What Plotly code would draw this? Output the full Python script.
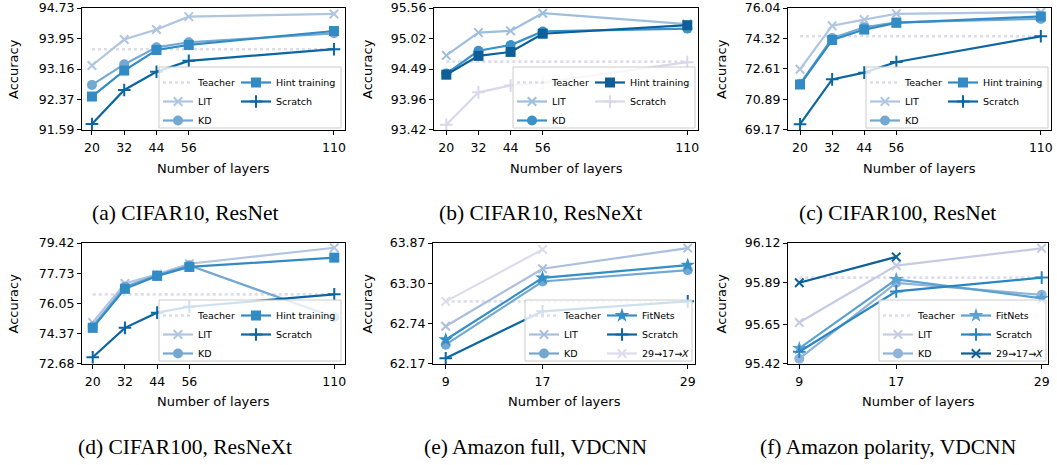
import plotly.graph_objects as go

W, H = 1057, 465

# ---------------- data ----------------
layers_resnet = [20, 32, 44, 56, 110]
layers_vdcnn = [9, 17, 29]
layers_chain = [9, 17]

# (a) CIFAR10, ResNet
a_teacher = 93.67
a_lit = [93.25, 93.92, 94.18, 94.51, 94.58]
a_kd = [92.75, 93.28, 93.72, 93.85, 94.08]
a_hint = [92.45, 93.12, 93.65, 93.78, 94.14]
a_scratch = [91.74, 92.62, 93.09, 93.37, 93.67]
a_ticks = [91.59, 92.37, 93.16, 93.95, 94.73]

# (b) CIFAR10, ResNeXt
b_teacher = 94.62
b_lit = [94.73, 95.13, 95.16, 95.47, 95.28]
b_kd = [94.41, 94.81, 94.91, 95.15, 95.20]
b_hint = [94.39, 94.72, 94.79, 95.11, 95.26]
b_scratch = [93.51, 94.08, 94.20, 94.25, 94.61]
b_ticks = [93.42, 93.96, 94.49, 95.02, 95.56]

# (c) CIFAR100, ResNet
c_teacher = 74.45
c_lit = [72.59, 75.05, 75.39, 75.72, 75.81]
c_kd = [71.77, 74.35, 74.96, 75.24, 75.43]
c_hint = [71.73, 74.24, 74.83, 75.21, 75.57]
c_scratch = [69.49, 72.02, 72.40, 73.00, 74.45]
c_ticks = [69.17, 70.89, 72.61, 74.32, 76.04]

# (d) CIFAR100, ResNeXt
d_teacher = 76.56
d_lit = [74.99, 77.17, 77.68, 78.27, 79.16]
d_kd = [74.77, 76.99, 77.63, 78.18, 75.28]
d_hint = [74.69, 76.87, 77.59, 78.09, 78.61]
d_scratch = [73.05, 74.69, 75.54, 75.87, 76.56]
d_ticks = [72.68, 74.37, 76.05, 77.73, 79.42]

# (e) Amazon full, VDCNN
e_teacher = 63.05
e_lit = [62.70, 63.51, 63.80]
e_kd = [62.44, 63.33, 63.49]
e_fitnets = [62.51, 63.38, 63.56]
e_scratch = [62.25, 62.91, 63.05]
e_chain = [63.05, 63.78]
e_ticks = [62.17, 62.74, 63.30, 63.87]

# (f) Amazon polarity, VDCNN
f_teacher = 95.92
f_lit = [95.66, 95.99, 96.09]
f_kd = [95.45, 95.89, 95.82]
f_fitnets = [95.51, 95.91, 95.80]
f_scratch = [95.49, 95.84, 95.92]
f_chain = [95.89, 96.04]
f_ticks = [95.42, 95.65, 95.89, 96.12]

captions = ["(a) CIFAR10, ResNet", "(b) CIFAR10, ResNeXt", "(c) CIFAR100, ResNet",
            "(d) CIFAR100, ResNeXt", "(e) Amazon full, VDCNN", "(f) Amazon polarity, VDCNN"]
x_title = "Number of layers"
y_title = "Accuracy"

# ---------------- styling / layout helpers ----------------
FONT = "DejaVu Sans"
TEACHER_C = "#dcdcee"

# panel boxes in pixels: (left, right, top, bottom)
boxes = [
    (82, 345, 8, 130), (434, 698, 8, 130), (788, 1051, 8, 130),
    (82, 345, 243, 364), (433, 695, 243, 364), (788, 1048, 243, 364),
]
xranges = [[16.3, 114.1], [15.4, 114.0], [15.5, 113.8], [16.0, 114.0], [7.95, 29.6], [8.07, 29.52]]
# legend frame (left, right, top, bottom) in px
frames = [
    (162, 341, 67, 128), (516, 695, 67, 128), (869, 1048, 67, 128),
    (162, 341, 300, 361), (528, 692, 300, 361), (882, 1046, 300, 361),
]
ytitle_x = [13, 367, 721, 13, 367, 721]
xtitle_y = [168, 168, 168, 401, 401, 401]
cap_pos = [(185, 213), (540, 213), (897, 213), (185, 447), (535, 447), (888, 447)]


def px2x(p):
    return p / W


def px2y(p):
    return 1 - p / H


fig = go.Figure()


def add(panel, leg, xs, ys, name, color, kind):
    ax = "" if panel == 0 else str(panel + 1)
    lw = 2.2
    if kind == "teacher":
        tr = go.Scatter(x=xs, y=ys, mode="lines", name=name,
                        line=dict(color=color, width=2.6, dash="dot"))
    else:
        if kind == "x":
            mk = dict(symbol="x-thin", size=8.5, line=dict(color=color, width=2), color=color)
        elif kind == "plus":
            mk = dict(symbol="cross-thin", size=9, line=dict(color=color, width=2), color=color)
        elif kind == "circle":
            mk = dict(symbol="circle", size=10, color=color, line=dict(width=0))
        elif kind == "square":
            mk = dict(symbol="square", size=10, color=color, line=dict(width=0))
        elif kind == "star":
            mk = dict(symbol="star", size=11, color=color, line=dict(width=0))
        tr = go.Scatter(x=xs, y=ys, mode="lines+markers", name=name,
                        line=dict(color=color, width=lw), marker=mk)
    tr.update(xaxis="x" + ax, yaxis="y" + ax, legend=leg, showlegend=True)
    fig.add_trace(tr)


panels = [
    (layers_resnet, a_teacher, a_ticks, [
        ("LIT", a_lit, "#b0c5e0", "x"), ("KD", a_kd, "#73a8d2", "circle"),
        ("Hint training", a_hint, "#328bc4", "square"), ("Scratch", a_scratch, "#0b66a2", "plus")]),
    (layers_resnet, b_teacher, b_ticks, [
        ("LIT", b_lit, "#9dbedd", "x"), ("KD", b_kd, "#3a92c9", "circle"),
        ("Hint training", b_hint, "#0c5f98", "square"), ("Scratch", b_scratch, "#d8d8eb", "plus")]),
    (layers_resnet, c_teacher, c_ticks, [
        ("LIT", c_lit, "#b0c5e0", "x"), ("KD", c_kd, "#73a8d2", "circle"),
        ("Hint training", c_hint, "#328bc4", "square"), ("Scratch", c_scratch, "#0b66a2", "plus")]),
    (layers_resnet, d_teacher, d_ticks, [
        ("LIT", d_lit, "#b0c5e0", "x"), ("KD", d_kd, "#73a8d2", "circle"),
        ("Hint training", d_hint, "#328bc4", "square"), ("Scratch", d_scratch, "#0b66a2", "plus")]),
    (layers_vdcnn, e_teacher, e_ticks, [
        ("LIT", e_lit, "#a9bfdd", "x"), ("KD", e_kd, "#73a8d2", "circle"),
        ("FitNets", e_fitnets, "#348fc6", "star"), ("Scratch", e_scratch, "#0b66a2", "plus"),
        ("29→17→<i>X</i>", e_chain, "#dcdcee", "x")]),
    (layers_vdcnn, f_teacher, f_ticks, [
        ("LIT", f_lit, "#c6cbe5", "x"), ("KD", f_kd, "#90b4d8", "circle"),
        ("FitNets", f_fitnets, "#5ca1cf", "star"), ("Scratch", f_scratch, "#2a86c2", "plus"),
        ("29→17→<i>X</i>", f_chain, "#0c5f98", "x")]),
]

layout = dict(
    width=W, height=H, margin=dict(l=0, r=0, t=0, b=0),
    paper_bgcolor="white", plot_bgcolor="white",
    font=dict(family=FONT, size=12.5, color="black"),
    shapes=[], annotations=[],
)

for i, (xs, teacher, ticks, series) in enumerate(panels):
    ax = "" if i == 0 else str(i + 1)
    L, R, T, B = boxes[i]
    leg1 = "legend" if i == 0 else "legend%d" % (2 * i + 1)
    leg2 = "legend%d" % (2 * i + 2)
    add(i, leg1, [xs[0], xs[-1]], [teacher, teacher], "Teacher", TEACHER_C, "teacher")
    for j, (name, ys, col, kind) in enumerate(series):
        xv = layers_chain if name.startswith("29") else xs
        add(i, leg1 if j < 2 else leg2, xv, ys, name, col, kind)

    span = ticks[-1] - ticks[0]
    layout["xaxis" + ax] = dict(
        domain=[px2x(L), px2x(R)], anchor="y" + ax, range=xranges[i],
        tickvals=xs, ticktext=[str(v) for v in xs],
        showline=True, mirror=True, linecolor="black", linewidth=1,
        ticks="outside", ticklen=4, tickwidth=1, tickcolor="black",
        showgrid=False, zeroline=False, automargin=False, ticklabeloverflow="allow",
        ticklabelstandoff=2,
        tickfont=dict(family=FONT, size=12.5),
    )
    layout["yaxis" + ax] = dict(
        domain=[px2y(B), px2y(T)], anchor="x" + ax,
        range=[ticks[0] - span * 0.001, ticks[-1] + span * 0.001],
        tickvals=ticks, ticktext=["%.2f" % t for t in ticks],
        showline=True, mirror=True, linecolor="black", linewidth=1,
        ticks="outside", ticklen=4, tickwidth=1, tickcolor="black",
        showgrid=False, zeroline=False, automargin=False, ticklabeloverflow="allow",
        tickfont=dict(family=FONT, size=12.5),
    )

    # axis titles
    layout["annotations"].append(dict(
        text=x_title, xref="paper", yref="paper", x=px2x((L + R) / 2), y=px2y(xtitle_y[i]),
        xanchor="center", yanchor="middle", showarrow=False,
        font=dict(family=FONT, size=13, color="black")))
    layout["annotations"].append(dict(
        text=y_title, xref="paper", yref="paper", x=px2x(ytitle_x[i]), y=px2y((T + B) / 2),
        xanchor="center", yanchor="middle", showarrow=False, textangle=-90,
        font=dict(family=FONT, size=13, color="black")))

    fl, fr, ft, fb = frames[i]
    layout["shapes"].append(dict(
        type="rect", xref="paper", yref="paper",
        x0=px2x(fl - 3), x1=px2x(fr), y0=px2y(fb), y1=px2y(ft),
        line=dict(color="#cccccc", width=1), fillcolor="rgba(255,255,255,0.8)", layer="above"))
    for leg, lx in ((leg1, fl - 4), (leg2, fl + 74)):
        layout[leg] = dict(
            x=px2x(lx), y=px2y(ft + 1), xanchor="left", yanchor="top",
            bgcolor="rgba(0,0,0,0)", borderwidth=0, tracegroupgap=0,
            font=dict(family=FONT, size=9.5), itemwidth=30,
        )

    cx, cy = cap_pos[i]
    layout["annotations"].append(dict(
        text=captions[i], xref="paper", yref="paper", x=px2x(cx), y=px2y(cy),
        xanchor="center", yanchor="middle", showarrow=False,
        font=dict(family="Liberation Serif", size=21.5, color="black")))

fig.update_layout(**layout)
# remove the browser's default page margin so the figure sits at the window origin
fig.write_html("out.html", config={"displayModeBar": False},
               post_script="document.body.style.margin='0px';document.body.style.overflow='hidden';")
